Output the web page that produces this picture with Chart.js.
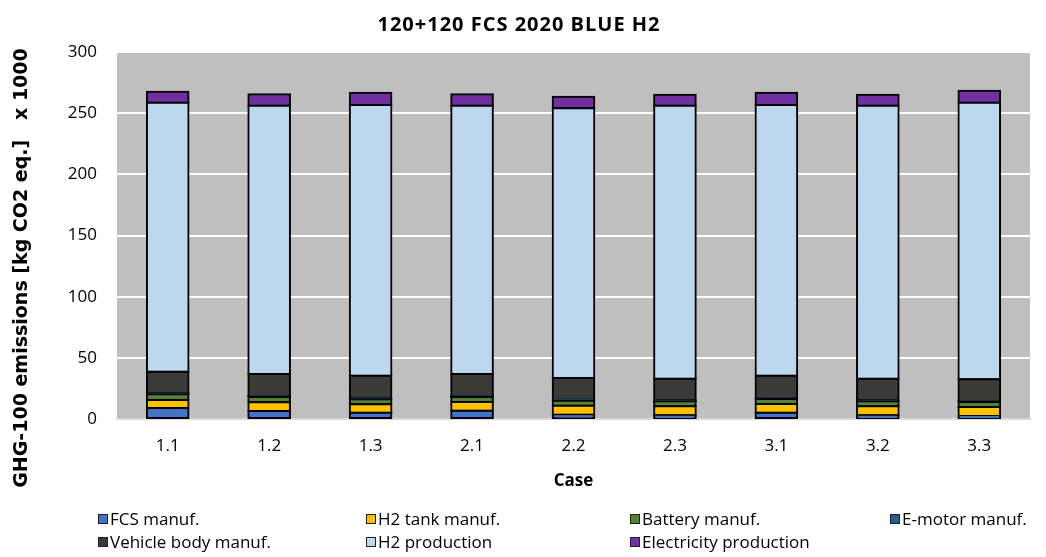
<!DOCTYPE html>
<html>
<head>
<meta charset="utf-8">
<script src="https://cdn.jsdelivr.net/npm/chart.js@4/dist/chart.umd.min.js"></script>
<style>
  html, body { margin: 0; padding: 0; background: #ffffff; }
  #wrap { width: 1046px; height: 557px; }
</style>
</head>
<body>
<div id="wrap"><canvas id="c" width="1046" height="557"></canvas></div>
<script>
// Cases on the x axis
const cases = ['1.1', '1.2', '1.3', '2.1', '2.2', '2.3', '3.1', '3.2', '3.3'];

// Emission contributions per case, kg CO2 eq. x 1000
const fcsManuf              = [9.0, 6.5, 5.2, 6.8, 3.5, 3.0, 5.2, 3.0, 2.5];
const h2TankManuf           = [6.5, 7.1, 6.8, 7.1, 7.4, 7.4, 7.1, 7.4, 7.3];
const batteryManuf          = [4.7, 4.4, 4.1, 4.1, 4.1, 4.1, 4.1, 4.1, 4.1];
const eMotorManuf           = [0.8, 0.8, 0.8, 0.8, 0.8, 0.8, 0.8, 0.8, 0.8];
const vehicleBodyManuf      = [17.7, 18.0, 18.5, 18.0, 17.7, 17.7, 18.2, 17.7, 17.7];
const h2Production          = [219.9, 219.2, 221.3, 219.2, 220.5, 223.0, 221.3, 223.0, 226.2];
const electricityProduction = [9.0, 9.5, 9.9, 9.5, 9.5, 9.0, 9.9, 9.0, 9.8];

const seriesLabels = ['FCS manuf.', 'H2 tank manuf.', 'Battery manuf.', 'E-motor manuf.',
                      'Vehicle body manuf.', 'H2 production', 'Electricity production'];
const seriesColors = ['#4472C4', '#FFC000', '#548235', '#255E91',
                      '#3A3A38', '#BDD7EE', '#7030A0'];
const seriesValues = [fcsManuf, h2TankManuf, batteryManuf, eMotorManuf,
                      vehicleBodyManuf, h2Production, electricityProduction];

// Y axis ticks
const yMin = 0, yMax = 300, yStep = 50;

const chartTitle = '120+120 FCS 2020 BLUE H2';
const yTitle = 'GHG-100 emissions [kg CO2 eq.]   x 1000';
const xTitle = 'Case';

const FONT = "'Open Sans', 'DejaVu Sans', sans-serif";
const WIDE_BOLD = "'DejaVu Sans', Verdana, sans-serif";

// Grey plotting area behind the bars
const plotBackground = {
  id: 'plotBackground',
  beforeDraw(chart) {
    const { ctx, chartArea: a } = chart;
    ctx.save();
    ctx.fillStyle = '#BFBFBF';
    ctx.fillRect(a.left, a.top, a.right - a.left, a.bottom - a.top);
    ctx.restore();
  }
};

// Titles and a four-column legend
const annotations = {
  id: 'annotations',
  afterDraw(chart) {
    const { ctx, chartArea: a } = chart;
    ctx.save();
    ctx.fillStyle = '#000000';
    ctx.textAlign = 'center';
    ctx.textBaseline = 'middle';

    ctx.font = "bold 20px " + FONT;
    ctx.letterSpacing = '1px';
    ctx.fillText(chartTitle, 519, 25);
    ctx.letterSpacing = '0px';

    ctx.font = "bold 17px " + FONT;
    ctx.fillText(xTitle, (a.left + a.right) / 2, 481);

    ctx.save();
    ctx.translate(22, 268);
    ctx.rotate(-Math.PI / 2);
    ctx.font = "bold 19px " + WIDE_BOLD;
    ctx.fillText(yTitle, 0, 0);
    ctx.restore();

    const colX = [98, 366, 630, 890];
    const rowY = [519, 542];
    ctx.font = "17px " + FONT;
    ctx.textAlign = 'left';
    chart.data.datasets.forEach((ds, i) => {
      const x = colX[i % 4];
      const y = rowY[Math.floor(i / 4)];
      ctx.fillStyle = ds.backgroundColor;
      ctx.fillRect(x, y - 5, 10, 10);
      ctx.strokeStyle = '#202020';
      ctx.lineWidth = 1;
      ctx.strokeRect(x + 0.5, y - 4.5, 9, 9);
      ctx.fillStyle = '#000000';
      ctx.fillText(ds.label, x + 12, y + 1);
    });
    ctx.restore();
  }
};

new Chart(document.getElementById('c'), {
  type: 'bar',
  data: {
    labels: cases,
    datasets: seriesLabels.map((label, i) => ({
      label,
      data: seriesValues[i],
      backgroundColor: seriesColors[i],
      borderColor: '#000000',
      borderWidth: 2,
      borderSkipped: false,
      inflateAmount: 1,
      categoryPercentage: 1.0,
      barPercentage: 0.41
    }))
  },
  options: {
    responsive: false,
    animation: false,
    devicePixelRatio: 1,
    layout: { padding: { left: 40, right: 16, top: 52, bottom: 0 } },
    plugins: {
      legend: { display: false },
      title: { display: false },
      tooltip: { enabled: false }
    },
    scales: {
      x: {
        stacked: true,
        grid: { display: false, drawTicks: false },
        border: { display: true, color: '#D9D9D9', width: 2 },
        ticks: { color: '#000000', font: { family: FONT, size: 17 }, padding: 17 },
        afterFit(scale) { scale.height = 138; }
      },
      y: {
        stacked: true,
        min: yMin,
        max: yMax,
        grid: { color: '#FFFFFF', lineWidth: 2, drawTicks: false },
        border: { display: false },
        ticks: { stepSize: yStep, color: '#000000', font: { family: FONT, size: 17 }, padding: 20 },
        afterFit(scale) { scale.width = 77; }
      }
    }
  },
  plugins: [plotBackground, annotations]
});
</script>
</body>
</html>
